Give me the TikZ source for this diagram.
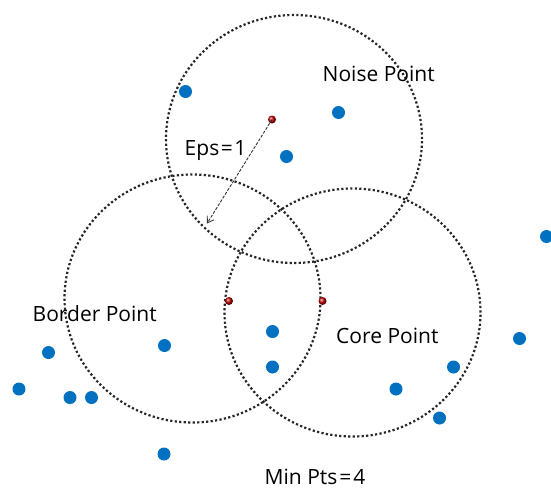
\documentclass[tikz,border=0pt]{standalone}
\usepackage{fontspec}
\setmainfont{Open Sans}
\usetikzlibrary{arrows.meta,shapes.geometric}
\definecolor{ptblue}{RGB}{0,112,192}
\begin{document}
\begin{tikzpicture}[x=1pt,y=-1pt,
  region/.style={ellipse, draw=black!85, line width=2.2pt, dash pattern=on 2.2pt off 2.3pt,
    minimum width=256pt, minimum height=248pt, inner sep=0pt},
  pt/.style={circle, fill=ptblue, minimum size=13pt, inner sep=0pt},
  core/.style={circle, shading=ball, ball color=red!75!black, minimum size=8pt, inner sep=0pt},
  lbl/.style={anchor=base west, inner sep=0pt, font=\fontsize{21}{25}\selectfont},
  epsline/.style={draw=black!80, line width=0.9pt, dash pattern=on 3pt off 1.5pt,
    -{Straight Barb[length=6pt,width=8pt]}}]
\useasboundingbox (0,0) rectangle (551,488);
% eps-neighbourhoods
\node[region] (ctop) at (294,139) {};
\node[region] (cleft) at (192.5,298.5) {};
\node[region] (cright) at (352.5,312.5) {};
% blue points
\node[pt] (p1) at (185.5,91.5) {};
\node[pt] (p2) at (338.5,112.5) {};
\node[pt] (p3) at (286.5,156.5) {};
\node[pt] (p4) at (546.5,236.5) {};
\node[pt] (p5) at (164.5,345.5) {};
\node[pt] (p6) at (48.5,352.5) {};
\node[pt] (p7) at (19,389) {};
\node[pt] (p8) at (70,397.5) {};
\node[pt] (p9) at (91.5,397.5) {};
\node[pt] (p10) at (164,454) {};
\node[pt] (p11) at (272.5,331.5) {};
\node[pt] (p12) at (272.5,367) {};
\node[pt] (p13) at (396,389) {};
\node[pt] (p14) at (453.5,367) {};
\node[pt] (p15) at (519.5,338.5) {};
\node[pt] (p16) at (439.5,418) {};
% red centre points
\node[core] (r1) at (272,119.5) {};
\node[core] (r2) at (229,301) {};
\node[core] (r3) at (322.5,301) {};
% eps radius arrow
\coordinate (tip) at (207,223.5);
\draw[epsline] (r1.center) -- (tip);
% labels
\node[lbl] (noise) at (322.5,81) {Noise Point};
\node[lbl] (eps) at (184.5,155) {Eps\kern1.5pt=\kern1.5pt1};
\node[lbl] (border) at (32.5,321) {Border Point};
\node[lbl] (corelbl) at (336,343) {Core Point};
\node[lbl] (minpts) at (264.5,484) {Min Pts\kern2pt=\kern2pt4};
\end{tikzpicture}
\end{document}
